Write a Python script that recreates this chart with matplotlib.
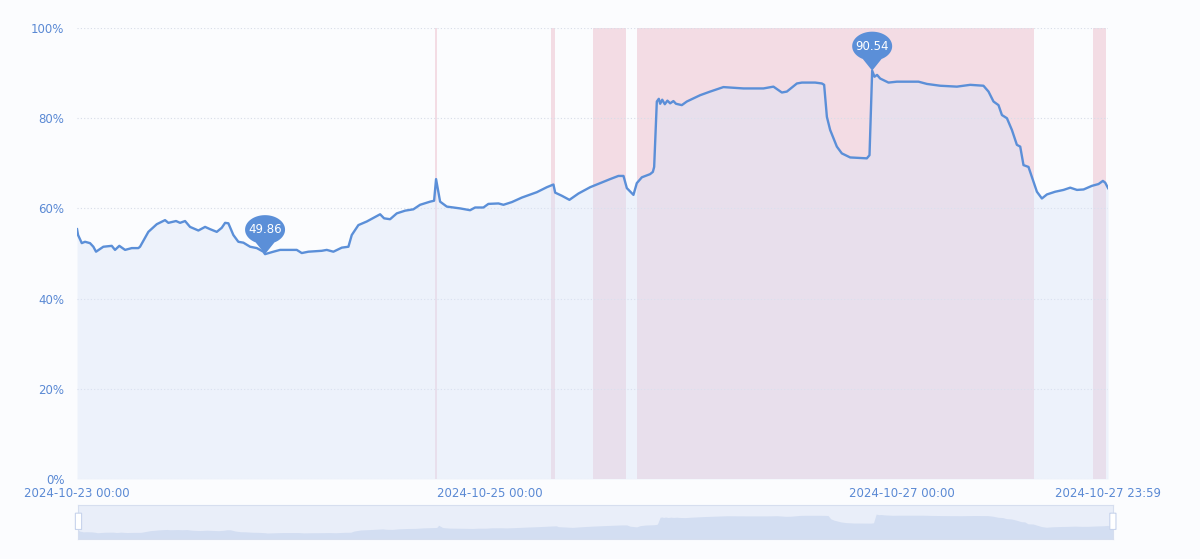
import numpy as np
import pandas as pd
import matplotlib
matplotlib.use("Agg")
import matplotlib.pyplot as plt
import matplotlib.dates as mdates
from matplotlib.path import Path
from matplotlib.patches import PathPatch, FancyBboxPatch
from matplotlib.transforms import ScaledTranslation

plt.rcParams['font.family'] = ['DejaVu Sans']

# ---- data ----
start = pd.Timestamp("2024-10-23 00:00")
end = pd.Timestamp("2024-10-27 23:59")

# hours after start, usage in %
hours = [0.0, 0.12, 0.55, 0.93, 1.51, 1.90, 2.21, 3.06, 4.04, 4.42, 4.92, 5.59, 6.37,
         7.13, 7.33, 8.30, 9.28, 10.24, 10.63, 11.52, 11.99, 12.57, 13.15, 14.12, 14.90,
         15.48, 16.26, 16.84, 17.23, 17.61, 18.19, 18.77, 19.36, 20.14, 20.92, 21.68,
         21.88, 22.85, 23.63, 25.57, 26.15, 26.92, 28.48, 29.06, 29.83, 30.81, 31.58,
         31.97, 32.74, 33.72, 34.49, 35.27, 35.73, 36.43, 37.21, 38.18, 39.14, 39.92,
         41.09, 41.55, 41.78, 42.25, 43.03, 44.58, 45.74, 46.32, 47.29, 47.87, 49.04,
         49.62, 50.60, 51.76, 53.51, 54.67, 55.44, 55.64, 56.42, 57.30, 58.35, 59.71,
         60.87, 62.04, 63.00, 63.59, 63.98, 64.75, 65.14, 65.73, 66.69, 67.01, 67.16,
         67.47, 67.70, 67.86, 68.10, 68.40, 68.70, 69.02, 69.40, 69.70, 70.38, 70.96,
         72.51, 73.67, 75.22, 77.55, 79.88, 81.04, 82.02, 82.60, 83.77, 84.35, 85.90,
         86.68, 86.94, 87.26, 87.64, 88.42, 89.00, 89.97, 91.91, 92.22, 92.38, 92.53,
         92.80, 93.10, 93.46, 94.43, 95.41, 96.96, 97.92, 98.90, 100.44, 102.39, 103.94,
         105.48, 106.07, 106.65, 107.23, 107.63, 108.21, 108.79, 109.37, 109.76, 110.14,
         110.72, 111.31, 111.70, 112.28, 112.87, 113.83, 114.80, 115.58, 116.36, 117.13,
         118.10, 118.87, 119.38, 119.65, 119.98]
usage = [55.4, 54.1, 52.3, 52.6, 52.3, 51.5, 50.4, 51.5, 51.7, 50.8, 51.7, 50.8, 51.2,
         51.2, 51.5, 54.8, 56.5, 57.4, 56.8, 57.2, 56.8, 57.2, 55.9, 55.1, 55.9,
         55.4, 54.8, 55.7, 56.8, 56.7, 54.1, 52.6, 52.4, 51.5, 51.2, 50.4,
         49.86, 50.4, 50.8, 50.8, 50.1, 50.4, 50.6, 50.8, 50.4, 51.3, 51.5,
         54.1, 56.3, 57.1, 57.9, 58.7, 57.8, 57.6, 58.9, 59.5, 59.8, 60.8,
         61.5, 61.7, 66.5, 61.5, 60.4, 60.0, 59.6, 60.2, 60.2, 61.0, 61.1,
         60.8, 61.4, 62.4, 63.6, 64.7, 65.3, 63.5, 62.8, 61.9, 63.3, 64.7,
         65.6, 66.5, 67.2, 67.2, 64.5, 63.0, 65.6, 66.9, 67.6, 68.1, 69.2,
         83.7, 84.3, 83.2, 84.1, 83.1, 83.9, 83.3, 83.8, 83.2, 82.9, 83.7,
         85.1, 85.9, 86.9, 86.6, 86.6, 87.0, 85.7, 85.9, 87.7, 87.9, 87.9,
         87.7, 87.4, 80.3, 77.4, 73.7, 72.2, 71.3, 71.1, 71.8, 81.8, 90.54,
         89.2, 89.6, 88.8, 87.9, 88.1, 88.1, 88.1, 87.6, 87.2, 87.0, 87.4,
         87.2, 85.9, 83.7, 82.9, 80.7, 80.0, 77.4, 74.1, 73.7, 69.6,
         69.2, 65.9, 63.7, 62.2, 63.1, 63.7, 64.1, 64.6, 64.1, 64.2,
         65.0, 65.4, 66.1, 65.7, 64.5]

# alarm windows (hours after start)
band_start = [41.70, 55.17, 60.06, 65.18, 118.25]
band_end = [41.86, 55.64, 63.90, 111.39, 119.77]

pin_hours = [21.88, 92.53]
pin_values = [49.86, 90.54]

tick_times = ["2024-10-23 00:00", "2024-10-25 00:00", "2024-10-27 00:00", "2024-10-27 23:59"]
y_ticks = [0, 20, 40, 60, 80, 100]

# ---- style ----
bg = "#fbfcfe"
blue = "#5b8fd8"
label_blue = "#5a89d4"
pink = "#f3dce4"

times = start + pd.to_timedelta(hours, unit="h")
x = mdates.date2num(times.to_pydatetime())

fig = plt.figure(figsize=(12, 5.59), dpi=100, facecolor=bg)
ax = fig.add_axes([0.0642, 0.1431, 0.8592, 0.8068])
ax.set_facecolor(bg)

for b0, b1 in zip(band_start, band_end):
    t0 = mdates.date2num(start + pd.Timedelta(hours=b0))
    t1 = mdates.date2num(start + pd.Timedelta(hours=b1))
    ax.axvspan(t0, t1, color=pink, lw=0, zorder=1)

for yv in y_ticks:
    ax.axhline(yv, color="#d6dce8", lw=0.8, ls=(0, (1, 2)), zorder=2)

ax.fill_between(x, usage, 0, color="#dbe5f8", alpha=0.42, lw=0, zorder=3)
ax.plot(x, usage, color=blue, lw=1.7, zorder=4, solid_joinstyle="round")

ax.set_xlim(mdates.date2num(start), mdates.date2num(end))
ax.set_ylim(0, 100)
ax.set_yticks(y_ticks)
ax.set_yticklabels([f"{v}%" for v in y_ticks])
tick_nums = [mdates.date2num(pd.Timestamp(t)) for t in tick_times]
ax.set_xticks(tick_nums)
ax.set_xticklabels(tick_times)
ax.tick_params(length=0, labelsize=8.5, colors=label_blue)
ax.tick_params(axis="y", pad=9)
ax.tick_params(axis="x", pad=6)
for s in ax.spines.values():
    s.set_visible(False)

# pins
ang = np.radians(np.linspace(-62, 242, 60))
rx, ry, cy = 0.20, 0.145, 0.245
verts = [(0, 0)] + [(rx * np.cos(a), cy + ry * np.sin(a)) for a in ang] + [(0, 0)]
codes = [Path.MOVETO] + [Path.LINETO] * (len(verts) - 2) + [Path.CLOSEPOLY]
pin_path = Path(verts, codes)
for ph, pv in zip(pin_hours, pin_values):
    tx = mdates.date2num(start + pd.Timedelta(hours=ph))
    tr = fig.dpi_scale_trans + ScaledTranslation(tx, pv, ax.transData)
    ax.add_patch(PathPatch(pin_path, transform=tr, facecolor=blue, edgecolor="none",
                           zorder=6, clip_on=False))
    ax.text(0, cy, f"{pv:.2f}", transform=tr, ha="center", va="center",
            color="white", fontsize=8.5, zorder=7)

# data zoom slider
sax = fig.add_axes([0.0654, 0.0358, 0.862, 0.0608])
sax.set_facecolor("#e9eef9")
sax.fill_between(x, usage, 0, color="#d3def2", lw=0)
sax.set_xlim(mdates.date2num(start), mdates.date2num(end))
sax.set_ylim(37, 110)
sax.set_xticks([])
sax.set_yticks([])
for s in sax.spines.values():
    s.set_color("#d6deef")
    s.set_linewidth(0.8)
for hx in [0.0, 1.0]:
    sax.add_patch(FancyBboxPatch((hx - 0.003, 0.28), 0.006, 0.48,
                                 boxstyle="round,pad=0,rounding_size=0.002",
                                 transform=sax.transAxes, facecolor="white",
                                 edgecolor="#c8d4ec", lw=0.8, clip_on=False, zorder=5))

fig.savefig("out.png", dpi=100, facecolor=bg)
